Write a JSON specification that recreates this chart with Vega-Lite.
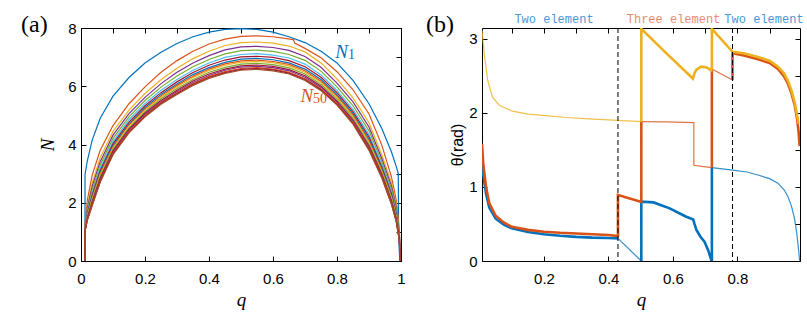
{
"$schema":"https://vega.github.io/schema/vega-lite/v6.json",
"padding":{"left":20,"top":12,"right":5,"bottom":5},
"background":"white",
"bounds":"flush",
"spacing":81,
"config":{"view":{"stroke":"black","strokeWidth":1},"axis":{"domain":false,"grid":false,"tickColor":"black","tickSize":-5,"tickWidth":1,"labelFont":"Liberation Sans","labelFontSize":15,"labelColor":"black","titleColor":"black","titleFontWeight":"normal","labelFlush":false,"labelOverlap":false}},
"datasets":{
"curves":[
{"k":1,"q":0.0125,"N":0},{"k":1,"q":0.0126,"N":2.98},{"k":1,"q":0.02,"N":3.45},{"k":1,"q":0.035,"N":4.15},{"k":1,"q":0.06,"N":4.9},{"k":1,"q":0.1,"N":5.66},{"k":1,"q":0.15,"N":6.3},{"k":1,"q":0.2,"N":6.8},{"k":1,"q":0.25,"N":7.17},{"k":1,"q":0.3,"N":7.47},{"k":1,"q":0.35,"N":7.7},{"k":1,"q":0.4,"N":7.86},{"k":1,"q":0.45,"N":7.95},{"k":1,"q":0.5,"N":7.98},{"k":1,"q":0.55,"N":7.95},{"k":1,"q":0.6,"N":7.86},{"k":1,"q":0.65,"N":7.7},{"k":1,"q":0.7,"N":7.5},{"k":1,"q":0.75,"N":7.2},{"k":1,"q":0.8,"N":6.8},{"k":1,"q":0.85,"N":6.2},{"k":1,"q":0.9,"N":5.4},{"k":1,"q":0.94,"N":4.55},{"k":1,"q":0.97,"N":3.75},{"k":1,"q":0.985,"N":3.25},{"k":1,"q":0.9915,"N":3.0},{"k":1,"q":0.9925,"N":1.0},{"k":1,"q":0.996,"N":0},
{"k":2,"q":0.0125,"N":0},{"k":2,"q":0.013,"N":1.3},{"k":2,"q":0.02,"N":2.1},{"k":2,"q":0.035,"N":2.95},{"k":2,"q":0.06,"N":3.8},{"k":2,"q":0.1,"N":4.65},{"k":2,"q":0.15,"N":5.4},{"k":2,"q":0.2,"N":5.98},{"k":2,"q":0.25,"N":6.48},{"k":2,"q":0.3,"N":6.88},{"k":2,"q":0.35,"N":7.2},{"k":2,"q":0.4,"N":7.45},{"k":2,"q":0.45,"N":7.62},{"k":2,"q":0.5,"N":7.71},{"k":2,"q":0.55,"N":7.73},{"k":2,"q":0.6,"N":7.7},{"k":2,"q":0.664,"N":7.6},{"k":2,"q":0.668,"N":7.48},{"k":2,"q":0.7,"N":7.3},{"k":2,"q":0.75,"N":6.98},{"k":2,"q":0.8,"N":6.5},{"k":2,"q":0.85,"N":5.88},{"k":2,"q":0.9,"N":5.05},{"k":2,"q":0.94,"N":3.98},{"k":2,"q":0.97,"N":2.9},{"k":2,"q":0.985,"N":2.1},{"k":2,"q":0.995,"N":1.05},{"k":2,"q":0.997,"N":0},
{"k":3,"q":0.0125,"N":0},{"k":3,"q":0.013,"N":1.15},{"k":3,"q":0.02,"N":1.9},{"k":3,"q":0.035,"N":2.68},{"k":3,"q":0.06,"N":3.55},{"k":3,"q":0.1,"N":4.45},{"k":3,"q":0.15,"N":5.18},{"k":3,"q":0.2,"N":5.75},{"k":3,"q":0.25,"N":6.22},{"k":3,"q":0.3,"N":6.62},{"k":3,"q":0.35,"N":6.95},{"k":3,"q":0.4,"N":7.2},{"k":3,"q":0.45,"N":7.4},{"k":3,"q":0.5,"N":7.5},{"k":3,"q":0.55,"N":7.52},{"k":3,"q":0.6,"N":7.48},{"k":3,"q":0.65,"N":7.38},{"k":3,"q":0.7,"N":7.18},{"k":3,"q":0.75,"N":6.8},{"k":3,"q":0.8,"N":6.25},{"k":3,"q":0.85,"N":5.6},{"k":3,"q":0.9,"N":4.75},{"k":3,"q":0.94,"N":3.65},{"k":3,"q":0.97,"N":2.7},{"k":3,"q":0.985,"N":1.95},{"k":3,"q":0.995,"N":1.0},{"k":3,"q":0.997,"N":0},
{"k":4,"q":0.0125,"N":0},{"k":4,"q":0.013,"N":1.13},{"k":4,"q":0.02,"N":1.82},{"k":4,"q":0.035,"N":2.56},{"k":4,"q":0.06,"N":3.41},{"k":4,"q":0.1,"N":4.32},{"k":4,"q":0.15,"N":5.06},{"k":4,"q":0.2,"N":5.62},{"k":4,"q":0.25,"N":6.09},{"k":4,"q":0.3,"N":6.48},{"k":4,"q":0.35,"N":6.8},{"k":4,"q":0.4,"N":7.05},{"k":4,"q":0.45,"N":7.25},{"k":4,"q":0.5,"N":7.35},{"k":4,"q":0.55,"N":7.37},{"k":4,"q":0.6,"N":7.33},{"k":4,"q":0.65,"N":7.23},{"k":4,"q":0.7,"N":7.02},{"k":4,"q":0.75,"N":6.65},{"k":4,"q":0.8,"N":6.11},{"k":4,"q":0.85,"N":5.46},{"k":4,"q":0.9,"N":4.6},{"k":4,"q":0.94,"N":3.52},{"k":4,"q":0.97,"N":2.58},{"k":4,"q":0.985,"N":1.85},{"k":4,"q":0.995,"N":0.95},{"k":4,"q":0.997,"N":0},
{"k":5,"q":0.0125,"N":0},{"k":5,"q":0.013,"N":1.12},{"k":5,"q":0.02,"N":1.75},{"k":5,"q":0.035,"N":2.45},{"k":5,"q":0.06,"N":3.3},{"k":5,"q":0.1,"N":4.21},{"k":5,"q":0.15,"N":4.95},{"k":5,"q":0.2,"N":5.51},{"k":5,"q":0.25,"N":5.97},{"k":5,"q":0.3,"N":6.35},{"k":5,"q":0.35,"N":6.67},{"k":5,"q":0.4,"N":6.92},{"k":5,"q":0.45,"N":7.11},{"k":5,"q":0.5,"N":7.22},{"k":5,"q":0.55,"N":7.24},{"k":5,"q":0.6,"N":7.2},{"k":5,"q":0.65,"N":7.09},{"k":5,"q":0.7,"N":6.89},{"k":5,"q":0.75,"N":6.52},{"k":5,"q":0.8,"N":5.98},{"k":5,"q":0.85,"N":5.33},{"k":5,"q":0.9,"N":4.47},{"k":5,"q":0.94,"N":3.41},{"k":5,"q":0.97,"N":2.48},{"k":5,"q":0.985,"N":1.77},{"k":5,"q":0.995,"N":0.91},{"k":5,"q":0.997,"N":0},
{"k":6,"q":0.0125,"N":0},{"k":6,"q":0.013,"N":1.11},{"k":6,"q":0.02,"N":1.69},{"k":6,"q":0.035,"N":2.35},{"k":6,"q":0.06,"N":3.19},{"k":6,"q":0.1,"N":4.11},{"k":6,"q":0.15,"N":4.85},{"k":6,"q":0.2,"N":5.41},{"k":6,"q":0.25,"N":5.86},{"k":6,"q":0.3,"N":6.23},{"k":6,"q":0.35,"N":6.55},{"k":6,"q":0.4,"N":6.8},{"k":6,"q":0.45,"N":6.99},{"k":6,"q":0.5,"N":7.09},{"k":6,"q":0.55,"N":7.12},{"k":6,"q":0.6,"N":7.07},{"k":6,"q":0.65,"N":6.97},{"k":6,"q":0.7,"N":6.76},{"k":6,"q":0.75,"N":6.39},{"k":6,"q":0.8,"N":5.86},{"k":6,"q":0.85,"N":5.21},{"k":6,"q":0.9,"N":4.34},{"k":6,"q":0.94,"N":3.31},{"k":6,"q":0.97,"N":2.38},{"k":6,"q":0.985,"N":1.69},{"k":6,"q":0.995,"N":0.87},{"k":6,"q":0.997,"N":0},
{"k":7,"q":0.0125,"N":0},{"k":7,"q":0.013,"N":1.1},{"k":7,"q":0.02,"N":1.64},{"k":7,"q":0.035,"N":2.27},{"k":7,"q":0.06,"N":3.11},{"k":7,"q":0.1,"N":4.03},{"k":7,"q":0.15,"N":4.77},{"k":7,"q":0.2,"N":5.33},{"k":7,"q":0.25,"N":5.78},{"k":7,"q":0.3,"N":6.15},{"k":7,"q":0.35,"N":6.47},{"k":7,"q":0.4,"N":6.72},{"k":7,"q":0.45,"N":6.9},{"k":7,"q":0.5,"N":7.01},{"k":7,"q":0.55,"N":7.03},{"k":7,"q":0.6,"N":6.99},{"k":7,"q":0.65,"N":6.88},{"k":7,"q":0.7,"N":6.67},{"k":7,"q":0.75,"N":6.31},{"k":7,"q":0.8,"N":5.78},{"k":7,"q":0.85,"N":5.13},{"k":7,"q":0.9,"N":4.26},{"k":7,"q":0.94,"N":3.23},{"k":7,"q":0.97,"N":2.31},{"k":7,"q":0.985,"N":1.64},{"k":7,"q":0.995,"N":0.84},{"k":7,"q":0.997,"N":0},
{"k":8,"q":0.0125,"N":0},{"k":8,"q":0.013,"N":1.09},{"k":8,"q":0.02,"N":1.6},{"k":8,"q":0.035,"N":2.21},{"k":8,"q":0.06,"N":3.04},{"k":8,"q":0.1,"N":3.97},{"k":8,"q":0.15,"N":4.71},{"k":8,"q":0.2,"N":5.27},{"k":8,"q":0.25,"N":5.72},{"k":8,"q":0.3,"N":6.08},{"k":8,"q":0.35,"N":6.4},{"k":8,"q":0.4,"N":6.64},{"k":8,"q":0.45,"N":6.82},{"k":8,"q":0.5,"N":6.93},{"k":8,"q":0.55,"N":6.96},{"k":8,"q":0.6,"N":6.91},{"k":8,"q":0.65,"N":6.8},{"k":8,"q":0.7,"N":6.59},{"k":8,"q":0.75,"N":6.23},{"k":8,"q":0.8,"N":5.71},{"k":8,"q":0.85,"N":5.06},{"k":8,"q":0.9,"N":4.18},{"k":8,"q":0.94,"N":3.17},{"k":8,"q":0.97,"N":2.25},{"k":8,"q":0.985,"N":1.59},{"k":8,"q":0.995,"N":0.82},{"k":8,"q":0.997,"N":0},
{"k":9,"q":0.0125,"N":0},{"k":9,"q":0.013,"N":1.08},{"k":9,"q":0.02,"N":1.57},{"k":9,"q":0.035,"N":2.17},{"k":9,"q":0.06,"N":2.99},{"k":9,"q":0.1,"N":3.92},{"k":9,"q":0.15,"N":4.67},{"k":9,"q":0.2,"N":5.22},{"k":9,"q":0.25,"N":5.67},{"k":9,"q":0.3,"N":6.03},{"k":9,"q":0.35,"N":6.34},{"k":9,"q":0.4,"N":6.59},{"k":9,"q":0.45,"N":6.77},{"k":9,"q":0.5,"N":6.87},{"k":9,"q":0.55,"N":6.9},{"k":9,"q":0.6,"N":6.85},{"k":9,"q":0.65,"N":6.75},{"k":9,"q":0.7,"N":6.53},{"k":9,"q":0.75,"N":6.17},{"k":9,"q":0.8,"N":5.66},{"k":9,"q":0.85,"N":5.01},{"k":9,"q":0.9,"N":4.12},{"k":9,"q":0.94,"N":3.12},{"k":9,"q":0.97,"N":2.21},{"k":9,"q":0.985,"N":1.55},{"k":9,"q":0.995,"N":0.8},{"k":9,"q":0.997,"N":0},
{"k":10,"q":0.0125,"N":0},{"k":10,"q":0.013,"N":1.08},{"k":10,"q":0.02,"N":1.55},{"k":10,"q":0.035,"N":2.13},{"k":10,"q":0.06,"N":2.95},{"k":10,"q":0.1,"N":3.88},{"k":10,"q":0.15,"N":4.63},{"k":10,"q":0.2,"N":5.18},{"k":10,"q":0.25,"N":5.62},{"k":10,"q":0.3,"N":5.98},{"k":10,"q":0.35,"N":6.3},{"k":10,"q":0.4,"N":6.54},{"k":10,"q":0.45,"N":6.72},{"k":10,"q":0.5,"N":6.83},{"k":10,"q":0.55,"N":6.85},{"k":10,"q":0.6,"N":6.81},{"k":10,"q":0.65,"N":6.7},{"k":10,"q":0.7,"N":6.48},{"k":10,"q":0.75,"N":6.13},{"k":10,"q":0.8,"N":5.61},{"k":10,"q":0.85,"N":4.96},{"k":10,"q":0.9,"N":4.08},{"k":10,"q":0.94,"N":3.08},{"k":10,"q":0.97,"N":2.17},{"k":10,"q":0.985,"N":1.52},{"k":10,"q":0.995,"N":0.79},{"k":10,"q":0.997,"N":0},
{"k":12,"q":0.0125,"N":0},{"k":12,"q":0.013,"N":1.07},{"k":12,"q":0.02,"N":1.51},{"k":12,"q":0.035,"N":2.07},{"k":12,"q":0.06,"N":2.89},{"k":12,"q":0.1,"N":3.83},{"k":12,"q":0.15,"N":4.57},{"k":12,"q":0.2,"N":5.13},{"k":12,"q":0.25,"N":5.57},{"k":12,"q":0.3,"N":5.92},{"k":12,"q":0.35,"N":6.23},{"k":12,"q":0.4,"N":6.48},{"k":12,"q":0.45,"N":6.65},{"k":12,"q":0.5,"N":6.76},{"k":12,"q":0.55,"N":6.79},{"k":12,"q":0.6,"N":6.74},{"k":12,"q":0.65,"N":6.63},{"k":12,"q":0.7,"N":6.42},{"k":12,"q":0.75,"N":6.06},{"k":12,"q":0.8,"N":5.55},{"k":12,"q":0.85,"N":4.9},{"k":12,"q":0.9,"N":4.01},{"k":12,"q":0.94,"N":3.03},{"k":12,"q":0.97,"N":2.12},{"k":12,"q":0.985,"N":1.48},{"k":12,"q":0.995,"N":0.77},{"k":12,"q":0.997,"N":0},
{"k":15,"q":0.0125,"N":0},{"k":15,"q":0.013,"N":1.07},{"k":15,"q":0.02,"N":1.48},{"k":15,"q":0.035,"N":2.03},{"k":15,"q":0.06,"N":2.84},{"k":15,"q":0.1,"N":3.78},{"k":15,"q":0.15,"N":4.53},{"k":15,"q":0.2,"N":5.08},{"k":15,"q":0.25,"N":5.51},{"k":15,"q":0.3,"N":5.86},{"k":15,"q":0.35,"N":6.18},{"k":15,"q":0.4,"N":6.42},{"k":15,"q":0.45,"N":6.59},{"k":15,"q":0.5,"N":6.7},{"k":15,"q":0.55,"N":6.73},{"k":15,"q":0.6,"N":6.68},{"k":15,"q":0.65,"N":6.57},{"k":15,"q":0.7,"N":6.36},{"k":15,"q":0.75,"N":6.0},{"k":15,"q":0.8,"N":5.49},{"k":15,"q":0.85,"N":4.84},{"k":15,"q":0.9,"N":3.95},{"k":15,"q":0.94,"N":2.98},{"k":15,"q":0.97,"N":2.07},{"k":15,"q":0.985,"N":1.45},{"k":15,"q":0.995,"N":0.75},{"k":15,"q":0.997,"N":0},
{"k":20,"q":0.0125,"N":0},{"k":20,"q":0.013,"N":1.06},{"k":20,"q":0.02,"N":1.46},{"k":20,"q":0.035,"N":1.99},{"k":20,"q":0.06,"N":2.79},{"k":20,"q":0.1,"N":3.74},{"k":20,"q":0.15,"N":4.49},{"k":20,"q":0.2,"N":5.04},{"k":20,"q":0.25,"N":5.47},{"k":20,"q":0.3,"N":5.82},{"k":20,"q":0.35,"N":6.13},{"k":20,"q":0.4,"N":6.37},{"k":20,"q":0.45,"N":6.55},{"k":20,"q":0.5,"N":6.66},{"k":20,"q":0.55,"N":6.68},{"k":20,"q":0.6,"N":6.64},{"k":20,"q":0.65,"N":6.53},{"k":20,"q":0.7,"N":6.31},{"k":20,"q":0.75,"N":5.96},{"k":20,"q":0.8,"N":5.45},{"k":20,"q":0.85,"N":4.8},{"k":20,"q":0.9,"N":3.91},{"k":20,"q":0.94,"N":2.94},{"k":20,"q":0.97,"N":2.03},{"k":20,"q":0.985,"N":1.42},{"k":20,"q":0.995,"N":0.73},{"k":20,"q":0.997,"N":0},
{"k":27,"q":0.0125,"N":0},{"k":27,"q":0.013,"N":1.06},{"k":27,"q":0.02,"N":1.43},{"k":27,"q":0.035,"N":1.95},{"k":27,"q":0.06,"N":2.76},{"k":27,"q":0.1,"N":3.7},{"k":27,"q":0.15,"N":4.45},{"k":27,"q":0.2,"N":5.0},{"k":27,"q":0.25,"N":5.44},{"k":27,"q":0.3,"N":5.78},{"k":27,"q":0.35,"N":6.09},{"k":27,"q":0.4,"N":6.33},{"k":27,"q":0.45,"N":6.5},{"k":27,"q":0.5,"N":6.61},{"k":27,"q":0.55,"N":6.64},{"k":27,"q":0.6,"N":6.59},{"k":27,"q":0.65,"N":6.48},{"k":27,"q":0.7,"N":6.26},{"k":27,"q":0.75,"N":5.91},{"k":27,"q":0.8,"N":5.41},{"k":27,"q":0.85,"N":4.76},{"k":27,"q":0.9,"N":3.86},{"k":27,"q":0.94,"N":2.9},{"k":27,"q":0.97,"N":2.0},{"k":27,"q":0.985,"N":1.39},{"k":27,"q":0.995,"N":0.72},{"k":27,"q":0.997,"N":0},
{"k":36,"q":0.0125,"N":0},{"k":36,"q":0.013,"N":1.05},{"k":36,"q":0.02,"N":1.42},{"k":36,"q":0.035,"N":1.92},{"k":36,"q":0.06,"N":2.73},{"k":36,"q":0.1,"N":3.67},{"k":36,"q":0.15,"N":4.42},{"k":36,"q":0.2,"N":4.97},{"k":36,"q":0.25,"N":5.41},{"k":36,"q":0.3,"N":5.75},{"k":36,"q":0.35,"N":6.06},{"k":36,"q":0.4,"N":6.3},{"k":36,"q":0.45,"N":6.47},{"k":36,"q":0.5,"N":6.58},{"k":36,"q":0.55,"N":6.61},{"k":36,"q":0.6,"N":6.56},{"k":36,"q":0.65,"N":6.45},{"k":36,"q":0.7,"N":6.23},{"k":36,"q":0.75,"N":5.88},{"k":36,"q":0.8,"N":5.38},{"k":36,"q":0.85,"N":4.73},{"k":36,"q":0.9,"N":3.83},{"k":36,"q":0.94,"N":2.87},{"k":36,"q":0.97,"N":1.97},{"k":36,"q":0.985,"N":1.37},{"k":36,"q":0.995,"N":0.71},{"k":36,"q":0.997,"N":0},
{"k":50,"q":0.0125,"N":0},{"k":50,"q":0.013,"N":1.05},{"k":50,"q":0.02,"N":1.4},{"k":50,"q":0.035,"N":1.9},{"k":50,"q":0.06,"N":2.7},{"k":50,"q":0.1,"N":3.65},{"k":50,"q":0.15,"N":4.4},{"k":50,"q":0.2,"N":4.95},{"k":50,"q":0.25,"N":5.38},{"k":50,"q":0.3,"N":5.72},{"k":50,"q":0.35,"N":6.03},{"k":50,"q":0.4,"N":6.27},{"k":50,"q":0.45,"N":6.44},{"k":50,"q":0.5,"N":6.55},{"k":50,"q":0.55,"N":6.58},{"k":50,"q":0.6,"N":6.53},{"k":50,"q":0.65,"N":6.42},{"k":50,"q":0.7,"N":6.2},{"k":50,"q":0.75,"N":5.85},{"k":50,"q":0.8,"N":5.35},{"k":50,"q":0.85,"N":4.7},{"k":50,"q":0.9,"N":3.8},{"k":50,"q":0.94,"N":2.85},{"k":50,"q":0.97,"N":1.95},{"k":50,"q":0.985,"N":1.35},{"k":50,"q":0.995,"N":0.7},{"k":50,"q":0.997,"N":0}
],
"labA":[
{"t":"N","q":0.814,"N":7.16,"lab":"N1","part":"main"},
{"t":"1","q":0.834,"N":7.07,"lab":"N1","part":"sub"},
{"t":"N","q":0.706,"N":5.65,"lab":"N50","part":"main"},
{"t":"50","q":0.725,"N":5.56,"lab":"N50","part":"sub"},
{"t":"(a)","q":-0.1875,"N":8.1,"lab":"panel","part":"panel"}
],
"theta":[
{"s":"b","w":"thick","g":"b1","q":0.0075,"th":1.31},{"s":"b","w":"thick","g":"b1","q":0.012,"th":1.15},{"s":"b","w":"thick","g":"b1","q":0.02,"th":0.91},{"s":"b","w":"thick","g":"b1","q":0.03,"th":0.72},{"s":"b","w":"thick","g":"b1","q":0.05,"th":0.57},{"s":"b","w":"thick","g":"b1","q":0.075,"th":0.49},{"s":"b","w":"thick","g":"b1","q":0.1,"th":0.44},{"s":"b","w":"thick","g":"b1","q":0.15,"th":0.39},{"s":"b","w":"thick","g":"b1","q":0.2,"th":0.36},{"s":"b","w":"thick","g":"b1","q":0.25,"th":0.34},{"s":"b","w":"thick","g":"b1","q":0.3,"th":0.325},{"s":"b","w":"thick","g":"b1","q":0.35,"th":0.315},{"s":"b","w":"thick","g":"b1","q":0.4,"th":0.31},{"s":"b","w":"thick","g":"b1","q":0.4295,"th":0.305},
{"s":"b","w":"thin","g":"b2","q":0.4295,"th":0.305},{"s":"b","w":"thin","g":"b2","q":0.502,"th":0},
{"s":"b","w":"thick","g":"b3","q":0.502,"th":0},{"s":"b","w":"thick","g":"b3","q":0.502,"th":0.8},{"s":"b","w":"thick","g":"b3","q":0.54,"th":0.79},{"s":"b","w":"thick","g":"b3","q":0.59,"th":0.71},{"s":"b","w":"thick","g":"b3","q":0.64,"th":0.6},{"s":"b","w":"thick","g":"b3","q":0.663,"th":0.56},{"s":"b","w":"thick","g":"b3","q":0.667,"th":0.5},{"s":"b","w":"thick","g":"b3","q":0.673,"th":0.42},{"s":"b","w":"thick","g":"b3","q":0.685,"th":0.33},{"s":"b","w":"thick","g":"b3","q":0.698,"th":0.26},{"s":"b","w":"thick","g":"b3","q":0.71,"th":0.14},{"s":"b","w":"thick","g":"b3","q":0.72,"th":0},{"s":"b","w":"thick","g":"b3","q":0.721,"th":0},{"s":"b","w":"thick","g":"b3","q":0.721,"th":1.26},
{"s":"b","w":"thin","g":"b4","q":0.721,"th":1.26},{"s":"b","w":"thin","g":"b4","q":0.785,"th":1.225},{"s":"b","w":"thin","g":"b4","q":0.83,"th":1.2},{"s":"b","w":"thin","g":"b4","q":0.864,"th":1.16},{"s":"b","w":"thin","g":"b4","q":0.9,"th":1.11},{"s":"b","w":"thin","g":"b4","q":0.926,"th":1.05},{"s":"b","w":"thin","g":"b4","q":0.945,"th":0.96},{"s":"b","w":"thin","g":"b4","q":0.957,"th":0.87},{"s":"b","w":"thin","g":"b4","q":0.968,"th":0.74},{"s":"b","w":"thin","g":"b4","q":0.978,"th":0.56},{"s":"b","w":"thin","g":"b4","q":0.985,"th":0.36},{"s":"b","w":"thin","g":"b4","q":0.99,"th":0.15},{"s":"b","w":"thin","g":"b4","q":0.9935,"th":0},
{"s":"o","w":"thick","g":"o1","q":0.0075,"th":1.58},{"s":"o","w":"thick","g":"o1","q":0.0115,"th":1.31},{"s":"o","w":"thick","g":"o1","q":0.02,"th":1.0},{"s":"o","w":"thick","g":"o1","q":0.03,"th":0.78},{"s":"o","w":"thick","g":"o1","q":0.05,"th":0.61},{"s":"o","w":"thick","g":"o1","q":0.075,"th":0.52},{"s":"o","w":"thick","g":"o1","q":0.1,"th":0.46},{"s":"o","w":"thick","g":"o1","q":0.15,"th":0.42},{"s":"o","w":"thick","g":"o1","q":0.2,"th":0.395},{"s":"o","w":"thick","g":"o1","q":0.25,"th":0.38},{"s":"o","w":"thick","g":"o1","q":0.3,"th":0.37},{"s":"o","w":"thick","g":"o1","q":0.35,"th":0.36},{"s":"o","w":"thick","g":"o1","q":0.4,"th":0.35},{"s":"o","w":"thick","g":"o1","q":0.4295,"th":0.335},{"s":"o","w":"thick","g":"o1","q":0.4295,"th":0.89},{"s":"o","w":"thick","g":"o1","q":0.5,"th":0.8},{"s":"o","w":"thick","g":"o1","q":0.502,"th":0.8},{"s":"o","w":"thick","g":"o1","q":0.502,"th":1.88},
{"s":"o","w":"thin","g":"o2","q":0.502,"th":1.88},{"s":"o","w":"thin","g":"o2","q":0.58,"th":1.875},{"s":"o","w":"thin","g":"o2","q":0.665,"th":1.865},{"s":"o","w":"thin","g":"o2","q":0.665,"th":1.29},{"s":"o","w":"thin","g":"o2","q":0.69,"th":1.275},{"s":"o","w":"thin","g":"o2","q":0.721,"th":1.26},
{"s":"o","w":"thick","g":"o3","q":0.721,"th":1.26},{"s":"o","w":"thick","g":"o3","q":0.721,"th":2.59},
{"s":"o","w":"thin","g":"o4","q":0.721,"th":2.59},{"s":"o","w":"thin","g":"o4","q":0.785,"th":2.44},
{"s":"o","w":"thick","g":"o5","q":0.785,"th":2.44},{"s":"o","w":"thick","g":"o5","q":0.785,"th":2.8},{"s":"o","w":"thick","g":"o5","q":0.82,"th":2.77},{"s":"o","w":"thick","g":"o5","q":0.864,"th":2.72},{"s":"o","w":"thick","g":"o5","q":0.9,"th":2.67},{"s":"o","w":"thick","g":"o5","q":0.926,"th":2.59},{"s":"o","w":"thick","g":"o5","q":0.945,"th":2.49},{"s":"o","w":"thick","g":"o5","q":0.957,"th":2.39},{"s":"o","w":"thick","g":"o5","q":0.968,"th":2.26},{"s":"o","w":"thick","g":"o5","q":0.978,"th":2.1},{"s":"o","w":"thick","g":"o5","q":0.985,"th":1.93},{"s":"o","w":"thick","g":"o5","q":0.99,"th":1.75},{"s":"o","w":"thick","g":"o5","q":0.9935,"th":1.55},
{"s":"y","w":"thin","g":"y1","q":0.0075,"th":3.11},{"s":"y","w":"thin","g":"y1","q":0.0146,"th":2.79},{"s":"y","w":"thin","g":"y1","q":0.025,"th":2.44},{"s":"y","w":"thin","g":"y1","q":0.04,"th":2.21},{"s":"y","w":"thin","g":"y1","q":0.061,"th":2.1},{"s":"y","w":"thin","g":"y1","q":0.102,"th":2.02},{"s":"y","w":"thin","g":"y1","q":0.15,"th":1.98},{"s":"y","w":"thin","g":"y1","q":0.206,"th":1.96},{"s":"y","w":"thin","g":"y1","q":0.27,"th":1.935},{"s":"y","w":"thin","g":"y1","q":0.34,"th":1.915},{"s":"y","w":"thin","g":"y1","q":0.4295,"th":1.895},{"s":"y","w":"thin","g":"y1","q":0.502,"th":1.88},
{"s":"y","w":"thick","g":"y2","q":0.502,"th":1.88},{"s":"y","w":"thick","g":"y2","q":0.502,"th":3.13},{"s":"y","w":"thick","g":"y2","q":0.58,"th":2.8},{"s":"y","w":"thick","g":"y2","q":0.662,"th":2.46},{"s":"y","w":"thick","g":"y2","q":0.667,"th":2.53},{"s":"y","w":"thick","g":"y2","q":0.673,"th":2.58},{"s":"y","w":"thick","g":"y2","q":0.688,"th":2.62},{"s":"y","w":"thick","g":"y2","q":0.705,"th":2.61},{"s":"y","w":"thick","g":"y2","q":0.719,"th":2.57},{"s":"y","w":"thick","g":"y2","q":0.721,"th":2.59},{"s":"y","w":"thick","g":"y2","q":0.721,"th":3.13},{"s":"y","w":"thick","g":"y2","q":0.785,"th":2.82},{"s":"y","w":"thick","g":"y2","q":0.82,"th":2.8},{"s":"y","w":"thick","g":"y2","q":0.864,"th":2.75},{"s":"y","w":"thick","g":"y2","q":0.9,"th":2.7},{"s":"y","w":"thick","g":"y2","q":0.926,"th":2.62},{"s":"y","w":"thick","g":"y2","q":0.945,"th":2.53},{"s":"y","w":"thick","g":"y2","q":0.957,"th":2.43},{"s":"y","w":"thick","g":"y2","q":0.968,"th":2.3},{"s":"y","w":"thick","g":"y2","q":0.978,"th":2.14},{"s":"y","w":"thick","g":"y2","q":0.985,"th":1.98},{"s":"y","w":"thick","g":"y2","q":0.99,"th":1.85}
],
"dash":[{"q":0.4295},{"q":0.785}],
"labB":[
{"txt":"Two element","q":0.231,"th":3.263,"c":"two"},
{"txt":"Three element","q":0.602,"th":3.263,"c":"three"},
{"txt":"Two element","q":0.8827,"th":3.263,"c":"two"}
],
"panB":[{"txt":"(b)","q":-0.1663,"th":3.18}]
},
"hconcat":[
{
"width":320,"height":233,
"resolve":{"scale":{"color":"independent"},"axis":{"x":"independent","y":"independent"}},
"layer":[
{"data":{"name":"curves"},"mark":{"type":"line","strokeWidth":1.2,"clip":true},
"encoding":{
"x":{"field":"q","type":"quantitative","scale":{"domain":[0,1],"nice":false,"zero":false},"axis":{"orient":"bottom","values":[0,0.2,0.4,0.6,0.8,1],"format":"~g","labelPadding":15,"title":"q","titleFont":"Liberation Serif","titleFontStyle":"italic","titleFontSize":19,"titlePadding":4}},
"y":{"field":"N","type":"quantitative","scale":{"domain":[0,8],"nice":false,"zero":false},"axis":{"orient":"left","values":[0,2,4,6,8],"labelPadding":10,"title":"N","titleFont":"Liberation Serif","titleFontStyle":"italic","titleFontSize":19,"titlePadding":10}},
"color":{"field":"k","type":"nominal","scale":{"domain":[1,2,3,4,5,6,7,8,9,10,12,15,20,27,36,50],"range":["#0072BD","#D95319","#EDB120","#7E2F8E","#77AC30","#4DBEEE","#A2142F","#0072BD","#D95319","#EDB120","#77AC30","#A2142F","#7E2F8E","#D95319","#A2142F","#A0522D"]},"legend":null},
"order":{"value":null}}},
{"data":{"name":"labA"},"transform":[{"filter":"datum.part=='main'"}],"mark":{"type":"text","font":"Liberation Serif","fontStyle":"italic","fontSize":19,"align":"center","baseline":"middle"},
"encoding":{
"x":{"field":"q","type":"quantitative","axis":{"orient":"top","labels":false,"title":null}},
"y":{"field":"N","type":"quantitative","axis":{"orient":"right","labels":false,"title":null}},
"text":{"field":"t"},
"color":{"field":"lab","type":"nominal","scale":{"domain":["N1","N50"],"range":["#0072BD","#D95319"]},"legend":null}}},
{"data":{"name":"labA"},"transform":[{"filter":"datum.part=='sub'"}],"mark":{"type":"text","font":"Liberation Serif","fontSize":14,"align":"left","baseline":"middle"},
"encoding":{
"x":{"field":"q","type":"quantitative","axis":null},
"y":{"field":"N","type":"quantitative","axis":null},
"text":{"field":"t"},
"color":{"field":"lab","type":"nominal","scale":{"domain":["N1","N50"],"range":["#0072BD","#D95319"]},"legend":null}}},
{"data":{"name":"labA"},"transform":[{"filter":"datum.part=='panel'"}],"mark":{"type":"text","font":"Liberation Serif","fontSize":24,"align":"left","baseline":"middle","color":"black"},
"encoding":{
"x":{"field":"q","type":"quantitative","axis":null},
"y":{"field":"N","type":"quantitative","axis":null},
"text":{"field":"t"}}}
]
},
{
"width":318,"height":233,
"resolve":{"axis":{"x":"independent","y":"independent"}},
"layer":[
{"data":{"name":"theta"},"transform":[{"filter":"datum.s=='b'"}],"mark":{"type":"line","color":"#0072BD","clip":true},
"encoding":{
"x":{"field":"q","type":"quantitative","scale":{"domain":[0.0075,0.9945],"nice":false,"zero":false},"axis":{"orient":"bottom","values":[0.2,0.4,0.6,0.8],"format":"~g","labelPadding":15,"title":"q","titleFont":"Liberation Serif","titleFontStyle":"italic","titleFontSize":19,"titlePadding":4}},
"y":{"field":"th","type":"quantitative","scale":{"domain":[0,3.14159],"nice":false,"zero":false},"axis":{"orient":"left","values":[0,1,2,3],"labelPadding":10,"title":"θ(rad)","titleFont":"Liberation Sans","titleFontSize":16,"titlePadding":3}},
"detail":{"field":"g"},
"strokeWidth":{"field":"w","type":"nominal","scale":{"domain":["thick","thin"],"range":[2.6,1.2]},"legend":null},
"strokeOpacity":{"field":"w","type":"nominal","scale":{"domain":["thick","thin"],"range":[1,0.8]},"legend":null},
"order":{"value":null}}},
{"data":{"name":"theta"},"transform":[{"filter":"datum.s=='o'"}],"mark":{"type":"line","color":"#D95319","clip":true},
"encoding":{
"x":{"field":"q","type":"quantitative","axis":null},
"y":{"field":"th","type":"quantitative","axis":null},
"detail":{"field":"g"},
"strokeWidth":{"field":"w","type":"nominal","scale":{"domain":["thick","thin"],"range":[2.6,1.2]},"legend":null},
"strokeOpacity":{"field":"w","type":"nominal","scale":{"domain":["thick","thin"],"range":[1,0.8]},"legend":null},
"order":{"value":null}}},
{"data":{"name":"theta"},"transform":[{"filter":"datum.s=='y'"}],"mark":{"type":"line","color":"#EDB120","clip":true},
"encoding":{
"x":{"field":"q","type":"quantitative","axis":null},
"y":{"field":"th","type":"quantitative","axis":null},
"detail":{"field":"g"},
"strokeWidth":{"field":"w","type":"nominal","scale":{"domain":["thick","thin"],"range":[2.6,1.2]},"legend":null},
"strokeOpacity":{"field":"w","type":"nominal","scale":{"domain":["thick","thin"],"range":[1,0.8]},"legend":null},
"order":{"value":null}}},
{"data":{"name":"dash"},"mark":{"type":"rule","color":"black","strokeDash":[5,3],"strokeWidth":1},
"encoding":{"x":{"field":"q","type":"quantitative","axis":null}}},
{"data":{"name":"labB"},"mark":{"type":"text","font":"Liberation Mono","fontSize":12,"align":"center","baseline":"middle"},
"encoding":{
"x":{"field":"q","type":"quantitative","axis":{"orient":"top","labels":false,"title":null}},
"y":{"field":"th","type":"quantitative","axis":{"orient":"right","labels":false,"title":null}},
"text":{"field":"txt"},
"color":{"field":"c","type":"nominal","scale":{"domain":["two","three"],"range":["#4A98D6","#EA8A6E"]},"legend":null}}},
{"data":{"name":"panB"},"mark":{"type":"text","font":"Liberation Serif","fontSize":24,"align":"left","baseline":"middle","color":"black"},
"encoding":{
"x":{"field":"q","type":"quantitative","axis":null},
"y":{"field":"th","type":"quantitative","axis":null},
"text":{"field":"txt"}}}
]
}
]
}
